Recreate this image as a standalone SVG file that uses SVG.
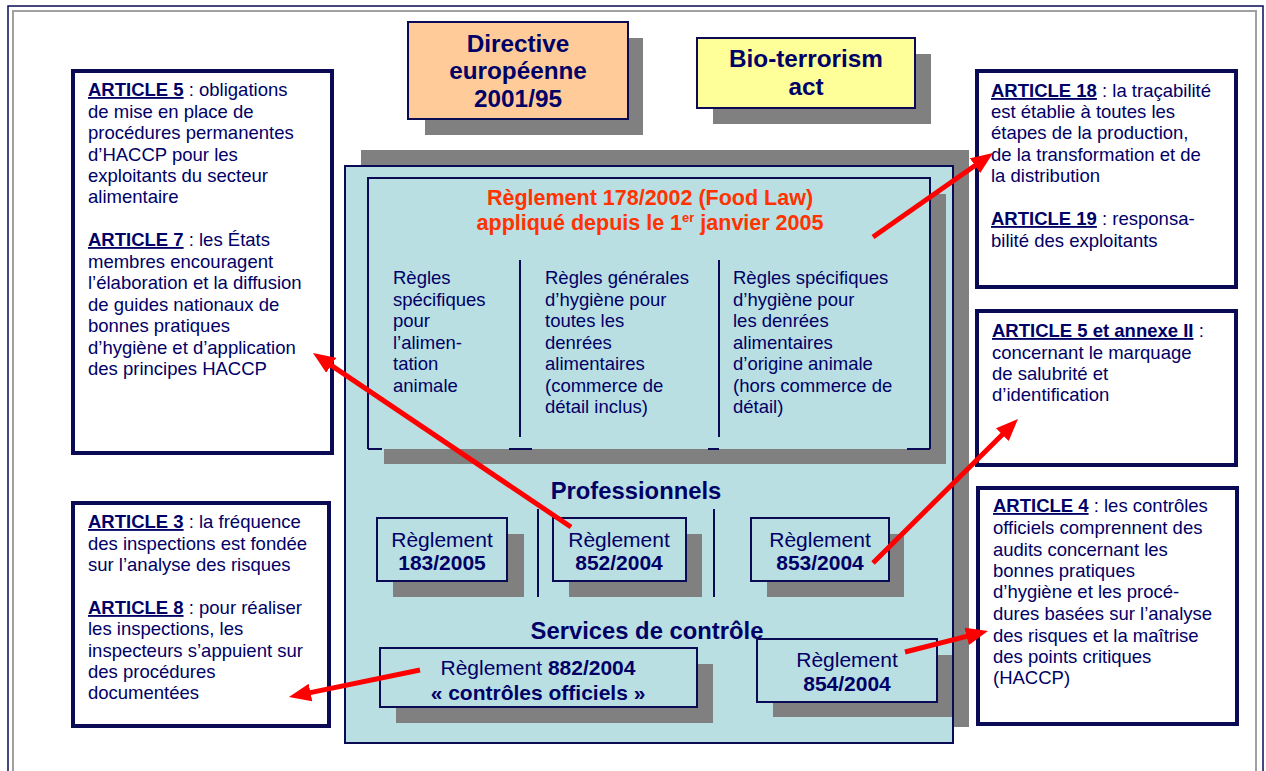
<svg xmlns="http://www.w3.org/2000/svg" width="1266" height="771" viewBox="0 0 1266 771">
<style>
text{font-family:"Liberation Sans",Arial,sans-serif;fill:#000066}
.b{font-weight:bold}
.t{font-size:18.5px}
.r{font-size:21px}
.g{font-size:23.8px;font-weight:bold;text-anchor:middle}
.h{font-size:24.3px;font-weight:bold;text-anchor:middle}
.c{text-anchor:middle}
.u{text-decoration:underline;font-weight:bold}
.box{fill:#fff;stroke:#0B0B55;stroke-width:4}
.sh{fill:#808080}
.teal{fill:#B9DFE3;stroke:#0B0B55;stroke-width:2}
.ln{stroke:#0B0B55;stroke-width:2;fill:none}
.arr{stroke:#FF0000;stroke-width:5;fill:none;marker-end:url(#ah)}
.red{fill:#FF3300;font-weight:bold;font-size:21.5px;text-anchor:middle}
</style>
<defs>
<marker id="ah" markerUnits="userSpaceOnUse" markerWidth="22" markerHeight="18" refX="4" refY="9" orient="auto">
<path d="M0,0 L22,9 L0,18 z" fill="#FF0000"/>
</marker>
</defs>
<rect width="1266" height="771" fill="#fff"/>
<rect x="8" y="6" width="1255" height="800" fill="none" stroke="#0B0B55" stroke-width="1.5"/>
<rect x="13" y="11" width="1243" height="790" fill="none" stroke="#A0A0A0" stroke-width="2"/>

<g id="directive">
<rect class="sh" x="425" y="38" width="218" height="97"/>
<rect x="408" y="22" width="220" height="97" fill="#FFCC99" stroke="#0B0B55" stroke-width="2"/>
<text class="h" x="518" y="52">Directive</text>
<text class="h" x="518" y="79">européenne</text>
<text class="h" x="518" y="107">2001/95</text>
</g>

<g id="bioterrorism">
<rect class="sh" x="713" y="54" width="218" height="70"/>
<rect x="697" y="38" width="218" height="70" fill="#FFFF99" stroke="#0B0B55" stroke-width="2"/>
<text class="h" x="806" y="67">Bio-terrorism</text>
<text class="h" x="806" y="95">act</text>
</g>

<g id="art5-7">
<rect class="box" x="73" y="71" width="259" height="382"/>
<text class="t" x="88" y="96"><tspan class="u">ARTICLE 5</tspan> : obligations</text>
<text class="t" x="88" y="118">de mise en place de</text>
<text class="t" x="88" y="139">procédures permanentes</text>
<text class="t" x="88" y="161">d’HACCP pour les</text>
<text class="t" x="88" y="182">exploitants du secteur</text>
<text class="t" x="88" y="203">alimentaire</text>
<text class="t" x="88" y="246"><tspan class="u">ARTICLE 7</tspan> : les États</text>
<text class="t" x="88" y="268">membres encouragent</text>
<text class="t" x="88" y="289">l’élaboration et la diffusion</text>
<text class="t" x="88" y="311">de guides nationaux de</text>
<text class="t" x="88" y="332">bonnes pratiques</text>
<text class="t" x="88" y="354">d’hygiène et d’application</text>
<text class="t" x="88" y="375">des principes HACCP</text>
</g>

<g id="art3-8">
<rect class="box" x="73" y="503" width="256" height="223"/>
<text class="t" x="88" y="528"><tspan class="u">ARTICLE 3</tspan> : la fréquence</text>
<text class="t" x="88" y="550">des inspections est fondée</text>
<text class="t" x="88" y="571">sur l’analyse des risques</text>
<text class="t" x="88" y="614"><tspan class="u">ARTICLE 8</tspan> : pour réaliser</text>
<text class="t" x="88" y="635">les inspections, les</text>
<text class="t" x="88" y="657">inspecteurs s’appuient sur</text>
<text class="t" x="88" y="678">des procédures</text>
<text class="t" x="88" y="699">documentées</text>
</g>

<g id="art18-19">
<rect class="box" x="977" y="71" width="259" height="216"/>
<text class="t" x="991" y="97"><tspan class="u">ARTICLE 18</tspan> : la traçabilité</text>
<text class="t" x="991" y="118">est établie à toutes les</text>
<text class="t" x="991" y="139">étapes de la production,</text>
<text class="t" x="991" y="161">de la transformation et de</text>
<text class="t" x="991" y="182">la distribution</text>
<text class="t" x="991" y="225"><tspan class="u">ARTICLE 19</tspan> : responsa-</text>
<text class="t" x="991" y="247">bilité des exploitants</text>
</g>

<g id="art5-annexe">
<rect class="box" x="977" y="311" width="259" height="154"/>
<text class="t" x="992" y="337"><tspan class="u">ARTICLE 5 et annexe II</tspan> :</text>
<text class="t" x="992" y="359">concernant le marquage</text>
<text class="t" x="992" y="380">de salubrité et</text>
<text class="t" x="992" y="401">d’identification</text>
</g>

<g id="art4">
<rect class="box" x="978" y="488" width="259" height="236"/>
<text class="t" x="993" y="512"><tspan class="u">ARTICLE 4</tspan> : les contrôles</text>
<text class="t" x="993" y="534">officiels comprennent des</text>
<text class="t" x="993" y="556">audits concernant les</text>
<text class="t" x="993" y="577">bonnes pratiques</text>
<text class="t" x="993" y="598">d’hygiène et les procé-</text>
<text class="t" x="993" y="620">dures basées sur l’analyse</text>
<text class="t" x="993" y="642">des risques et la maîtrise</text>
<text class="t" x="993" y="663">des points critiques</text>
<text class="t" x="993" y="684">(HACCP)</text>
</g>

<g id="container">
<rect class="sh" x="361" y="150" width="608" height="577"/>
<rect class="teal" x="345" y="166" width="608" height="577"/>
</g>

<g id="foodlaw">
<rect class="sh" x="384" y="194" width="562" height="270"/>
<rect x="368" y="178" width="562" height="271" fill="#B9DFE3"/>
<path class="ln" d="M368,449 L368,178 L930,178 L930,449"/>
<path class="ln" d="M368,449 H382 M509,449 H532 M708,449 H719 M907,449 H930"/>
<text class="red" x="650" y="205">Règlement 178/2002 (Food Law)</text>
<text class="red" x="650" y="230">appliqué depuis le 1<tspan font-size="13" dy="-8">er</tspan><tspan dy="8"> janvier 2005</tspan></text>
<line class="ln" x1="520" y1="260" x2="520" y2="437"/>
<line class="ln" x1="719" y1="260" x2="719" y2="437"/>
<text class="t" x="393" y="284">Règles</text>
<text class="t" x="393" y="305.5">spécifiques</text>
<text class="t" x="393" y="327">pour</text>
<text class="t" x="393" y="348.5">l’alimen-</text>
<text class="t" x="393" y="370">tation</text>
<text class="t" x="393" y="391.5">animale</text>
<text class="t" x="545" y="284">Règles générales</text>
<text class="t" x="545" y="305.5">d’hygiène pour</text>
<text class="t" x="545" y="327">toutes les</text>
<text class="t" x="545" y="348.5">denrées</text>
<text class="t" x="545" y="370">alimentaires</text>
<text class="t" x="545" y="391.5">(commerce de</text>
<text class="t" x="545" y="413">détail inclus)</text>
<text class="t" x="733" y="284">Règles spécifiques</text>
<text class="t" x="733" y="305.5">d’hygiène pour</text>
<text class="t" x="733" y="327">les denrées</text>
<text class="t" x="733" y="348.5">alimentaires</text>
<text class="t" x="733" y="370">d’origine animale</text>
<text class="t" x="733" y="391.5">(hors commerce de</text>
<text class="t" x="733" y="413">détail)</text>
</g>

<g id="professionnels">
<text class="g" x="636" y="499">Professionnels</text>
<line class="ln" x1="538" y1="509" x2="538" y2="597"/>
<line class="ln" x1="714" y1="509" x2="714" y2="597"/>
</g>

<g id="reg183">
<rect class="sh" x="393" y="534" width="131" height="63"/>
<rect class="teal" x="377" y="518" width="130" height="63"/>
<text class="r c" x="442" y="547">Règlement</text>
<text class="r b c" x="442" y="570">183/2005</text>
</g>

<g id="reg852">
<rect class="sh" x="569" y="534" width="133" height="63"/>
<rect class="teal" x="553" y="518" width="133" height="63"/>
<text class="r c" x="619" y="547">Règlement</text>
<text class="r b c" x="619" y="570">852/2004</text>
</g>

<g id="reg853">
<rect class="sh" x="767" y="534" width="137" height="63"/>
<rect class="teal" x="751" y="518" width="138" height="63"/>
<text class="r c" x="820" y="547">Règlement</text>
<text class="r b c" x="820" y="570">853/2004</text>
</g>

<g id="services">
<text class="g" x="647" y="639">Services de contrôle</text>
</g>

<g id="reg882">
<rect class="sh" x="396" y="664" width="317" height="59"/>
<rect class="teal" x="380" y="648" width="317" height="59"/>
<text class="r c" x="538" y="675">Règlement <tspan class="b">882/2004</tspan></text>
<text class="r b c" x="538" y="700">« contrôles officiels »</text>
</g>

<g id="reg854">
<rect class="sh" x="773" y="655" width="179" height="62"/>
<rect class="teal" x="757" y="639" width="180" height="63"/>
<text class="r c" x="847" y="667">Règlement</text>
<text class="r b c" x="847" y="691">854/2004</text>
</g>

<g id="connectors">
<line class="arr" x1="873" y1="237" x2="978.3" y2="163.3"/>
<line class="arr" x1="571" y1="527" x2="327.9" y2="363.1"/>
<line class="arr" x1="873" y1="563" x2="1005.2" y2="431.7"/>
<line class="arr" x1="905" y1="652" x2="970.5" y2="635.4"/>
<line class="arr" x1="420" y1="670" x2="306.6" y2="693.4"/>
</g>
</svg>
